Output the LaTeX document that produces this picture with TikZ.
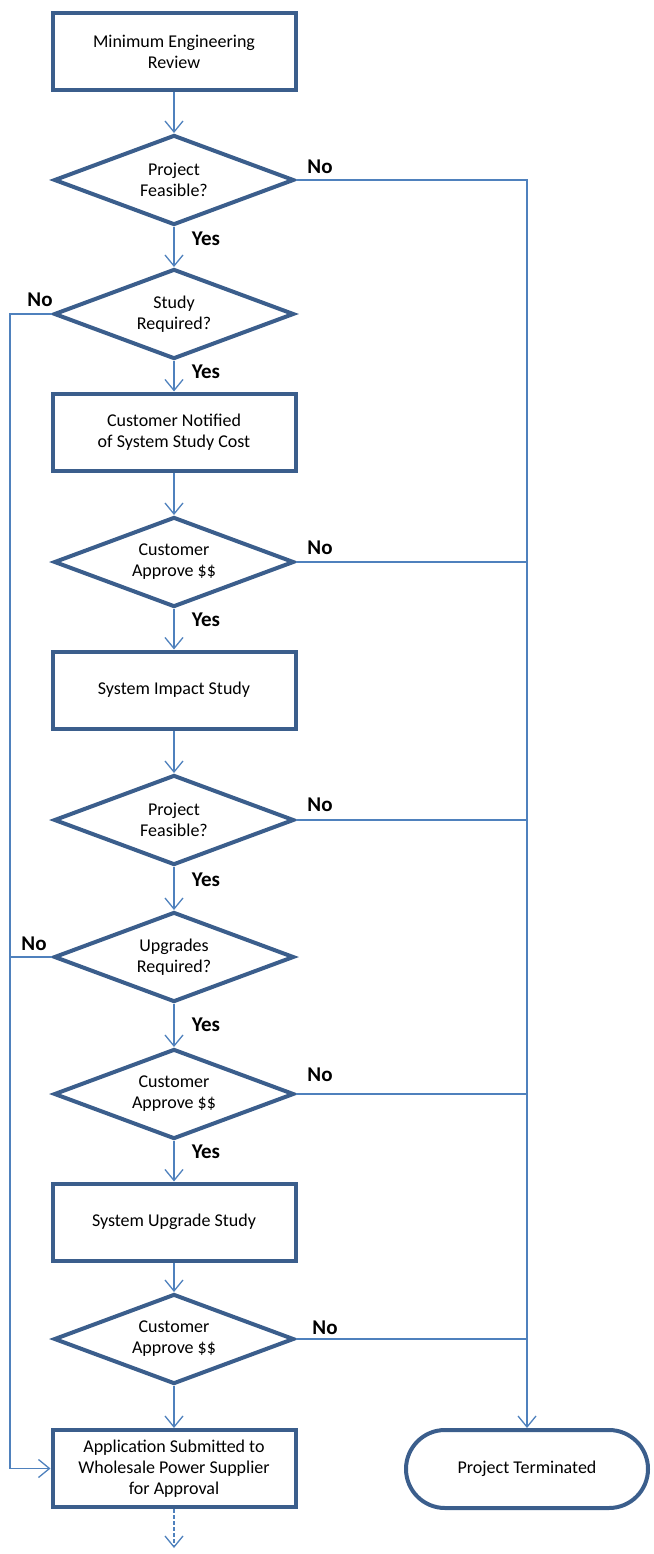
\documentclass[tikz,border=0pt]{standalone}
\usepackage{fontspec}
\setmainfont{Carlito}
\usetikzlibrary{shapes.geometric,arrows.meta}
\definecolor{bord}{HTML}{3B5E8C}
\definecolor{lnk}{HTML}{4F81BD}
\begin{document}
\begin{tikzpicture}[x=1pt,y=-1pt,
  every node/.style={font=\fontsize{18}{21}\selectfont, align=center},
  procbox/.style={draw=bord, line width=4pt, rectangle, minimum width=243pt, minimum height=77pt, inner sep=0pt},
  decis/.style={draw=bord, line width=4pt, diamond, aspect=2.6, minimum width=240pt, minimum height=90pt, inner sep=0pt},
  termbox/.style={draw=bord, line width=4pt, rectangle, rounded corners=39pt, minimum width=242pt, minimum height=78pt, inner sep=0pt},
  link/.style={draw=lnk, line width=1.3pt},
  arr/.style={link, -{Straight Barb[length=11pt,width=18pt,line width=1.3pt]}},
  lab/.style={font=\bfseries\fontsize{21}{22}\selectfont}]
\useasboundingbox (0,0) rectangle (653,1554);

\node[procbox] (b1) at (174,52) {Minimum Engineering\\Review};
\node[decis] (d1) at (174,180) {Project\\Feasible?};
\node[decis] (d2) at (174,314) {Study\\Required?};
\node[procbox] (b2) at (174,432) {Customer Notified\\of System Study Cost};
\node[decis] (d3) at (174,562) {Customer\\Approve \$\$};
\node[procbox] (b3) at (174,690) {System Impact Study};
\node[decis] (d4) at (174,820) {Project\\Feasible?};
\node[decis] (d5) at (174,957) {Upgrades\\Required?};
\node[decis] (d6) at (174,1094) {Customer\\Approve \$\$};
\node[procbox] (b4) at (174,1222) {System Upgrade Study};
\node[decis] (d7) at (174,1339) {Customer\\Approve \$\$};
\node[procbox] (b5) at (174,1468.5) {Application Submitted to\\Wholesale Power Supplier\\for Approval};
\node[termbox] (t) at (527,1469) {Project Terminated};

\coordinate (lft) at (10,0);
\coordinate (endp) at (174,1548);

% main chain
\draw[arr] (b1) -- (d1);
\draw[arr] (d1) -- (d2);
\draw[arr] (d2) -- (b2);
\draw[arr] (b2) -- (d3);
\draw[arr] (d3) -- (b3);
\draw[arr] (b3) -- (d4);
\draw[arr] (d4) -- (d5);
\draw[arr] (d5) -- (d6);
\draw[arr] (d6) -- (b4);
\draw[arr] (b4) -- (d7);
\draw[arr] (d7) -- (b5);
\draw[arr, dash pattern=on 4pt off 2pt] (b5) -- (endp);

% right side: No -> terminated
\draw[arr] (d1.east) -| (t.north);
\draw[link] (d3.east) -- (d3.east -| t.north);
\draw[link] (d4.east) -- (d4.east -| t.north);
\draw[link] (d6.east) -- (d6.east -| t.north);
\draw[link] (d7.east) -- (d7.east -| t.north);

% left side: No -> application
\draw[arr] (d2.west) -- (d2.west -| lft) |- (b5.west);
\draw[link] (d5.west) -- (d5.west -| lft);

% labels
\node[lab] (y1) at (206,239) {Yes};
\node[lab] (y2) at (206,372) {Yes};
\node[lab] (y3) at (206,620) {Yes};
\node[lab] (y4) at (206,880) {Yes};
\node[lab] (y5) at (206,1025) {Yes};
\node[lab] (y6) at (206,1152) {Yes};
\node[lab] (n1) at (320,167) {No};
\node[lab] (n2) at (40,300) {No};
\node[lab] (n3) at (320,548) {No};
\node[lab] (n4) at (320,805) {No};
\node[lab] (n5) at (34,944) {No};
\node[lab] (n6) at (320,1075) {No};
\node[lab] (n7) at (325,1328) {No};
\end{tikzpicture}
\end{document}
